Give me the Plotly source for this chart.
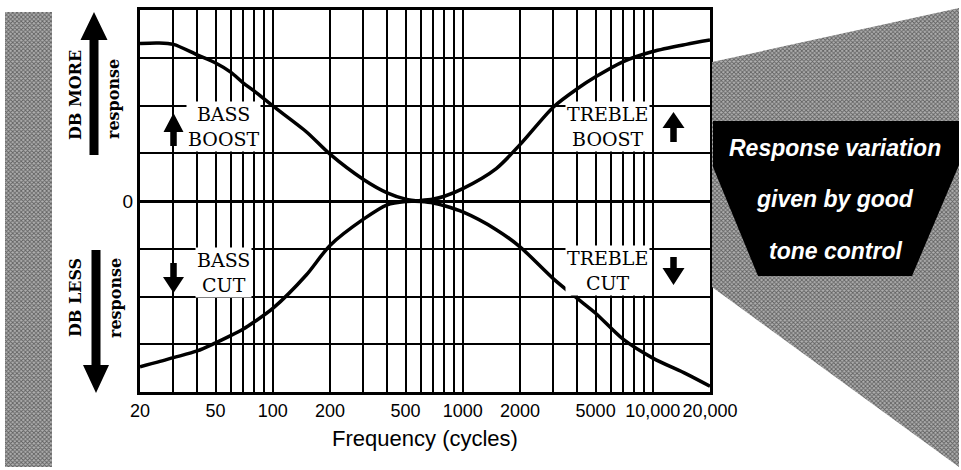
import numpy as np
import plotly.graph_objects as go

# Tone-control response curves (relative dB steps; one grid division = one step)
freq_bass = [20, 25, 30, 40, 50, 60, 70, 80, 100, 150, 200, 300, 400, 500, 600]
bass_boost = [3.30, 3.31, 3.28, 3.06, 2.89, 2.70, 2.47, 2.30, 1.99, 1.45, 0.98, 0.45, 0.17, 0.04, 0.0]
bass_cut = [-3.47, -3.37, -3.28, -3.14, -2.97, -2.82, -2.68, -2.53, -2.25, -1.55, -0.93, -0.38, -0.08, -0.01, 0.0]

freq_treble = [500, 600, 700, 800, 1000, 1500, 2000, 3000, 4000, 5000, 7000, 10000, 15000, 20000]
treble_boost = [0.0, 0.01, 0.04, 0.1, 0.26, 0.68, 1.18, 1.97, 2.35, 2.6, 2.92, 3.13, 3.28, 3.37]
treble_cut = [0.0, -0.01, -0.04, -0.1, -0.23, -0.6, -0.96, -1.63, -2.04, -2.35, -2.9, -3.29, -3.62, -3.88]

# Axis ticks and grid
x_tick_vals = [20, 50, 100, 200, 500, 1000, 2000, 5000, 10000, 20000]
x_tick_text = ["20", "50", "100", "200", "500", "1000", "2000", "5000", "10,000", "20,000"]
x_grid_vals = [30, 40, 60, 70, 80, 90, 300, 400, 600, 700, 800, 900,
               3000, 4000, 6000, 7000, 8000, 9000]
y_tick_vals = [0]
y_tick_text = ["0"]
y_grid_vals = [-3, -2, -1, 1, 2, 3]

W, H = 961, 470
PLOT_L, PLOT_R, PLOT_T, PLOT_B = 140, 710, 10, 392

SERIF = "DejaVu Serif"
SANS = "Liberation Sans"

fig = go.Figure()

# --- response curves -------------------------------------------------------
for fx, fy in [(freq_bass, bass_boost), (freq_bass, bass_cut),
               (freq_treble, treble_boost), (freq_treble, treble_cut)]:
    fig.add_trace(go.Scatter(
        x=fx, y=fy, mode="lines",
        line=dict(color="black", width=3.5, shape="spline", smoothing=0.8),
        hoverinfo="skip", showlegend=False, xaxis="x", yaxis="y"))

# --- decorative panel (pixel space) ----------------------------------------
def poly(pts, **kw):
    xs = [p[0] for p in pts] + [pts[0][0]]
    ys = [p[1] for p in pts] + [pts[0][1]]
    fig.add_trace(go.Scatter(x=xs, y=ys, mode="lines", fill="toself",
                             line=dict(width=0, color="rgba(0,0,0,0)"),
                             hoverinfo="skip", showlegend=False,
                             xaxis="x2", yaxis="y2", **kw))


def arrow(cx, tip, base, tail, shaft_w, head_w):
    hs, hh = shaft_w / 2, head_w / 2
    poly([(cx, tip), (cx + hh, base), (cx + hs, base), (cx + hs, tail),
          (cx - hs, tail), (cx - hs, base), (cx - hh, base)],
         fillcolor="black")


texture = dict(fillcolor="#8a8a8a",
               fillpattern=dict(shape="x", size=3, solidity=0.5,
                                fgcolor="#111111", bgcolor="#b0b0b0"))

# halftone strip on the left and the wedge on the right
poly([(5, 12), (52, 12), (52, 467), (5, 467)], **texture)
poly([(712, 62), (959, 8), (959, 467), (712, 287)], **texture)

# black caption banner
poly([(713, 121), (959, 121), (959, 165), (912, 276), (758, 276), (713, 167)],
     fillcolor="black")

# big arrows beside the axis
arrow(94, 12, 40, 155, 9, 27)
arrow(96, 393, 365, 250, 9, 26)

# small arrows beside the curve labels
arrow(173.5, 113, 132, 146, 6.5, 20)
arrow(173.5, 293, 277, 263, 6.5, 21)
arrow(673.5, 112, 128, 142, 6.5, 22)
arrow(673.5, 285, 268, 257, 6.5, 22)

annotations = []

# curve labels on white patches, placed in chart coordinates
for text, f, v in [("BASS<br>BOOST", 55, 1.55), ("BASS<br>CUT", 55, -1.49),
                   ("TREBLE<br>BOOST", 5740, 1.57), ("TREBLE<br>CUT", 5740, -1.45)]:
    annotations.append(dict(
        x=np.log10(f), y=v, xref="x", yref="y", text=text, showarrow=False,
        font=dict(family=SERIF, size=19, color="black"),
        bgcolor="white", borderpad=1, align="center"))

# rotated side labels
for text, x, y, weight, size in [("DB MORE", 75, 95, "bold", 16),
                                 ("response", 113, 99, "bold", 16),
                                 ("DB LESS", 75, 298, "bold", 16),
                                 ("response", 115, 298, "bold", 16)]:
    annotations.append(dict(
        x=x, y=y, xref="x2", yref="y2", text=text, showarrow=False,
        textangle=-90, font=dict(family=SERIF, size=size, color="black",
                                 weight=weight)))

# banner caption
for text, y in [("Response variation", 148), ("given by good", 199),
                ("tone control", 251)]:
    annotations.append(dict(
        x=835, y=y, xref="x2", yref="y2", text=text, showarrow=False,
        font=dict(family=SANS, size=23, color="white", weight="bold",
                  style="italic")))

fig.update_layout(
    width=W, height=H,
    margin=dict(l=0, r=0, t=0, b=0, autoexpand=False),
    paper_bgcolor="white", plot_bgcolor="rgba(0,0,0,0)",
    showlegend=False,
    annotations=annotations,
    xaxis=dict(
        type="log", range=[np.log10(20), np.log10(20000)],
        domain=[PLOT_L / W, PLOT_R / W], anchor="y", automargin=False,
        tickvals=x_tick_vals, ticktext=x_tick_text, ticks="", tickangle=0,
        tickfont=dict(family=SANS, size=18, color="black"),
        showgrid=True, gridcolor="black", gridwidth=1.8,
        minor=dict(tickvals=x_grid_vals, showgrid=True,
                   gridcolor="black", gridwidth=1.8, ticks=""),
        showline=True, mirror=True, linecolor="black", linewidth=3,
        zeroline=False,
        title=dict(text="Frequency (cycles)", standoff=12,
                   font=dict(family=SANS, size=22, color="black")),
    ),
    yaxis=dict(
        range=[-4, 4], domain=[1 - PLOT_B / H, 1 - PLOT_T / H], anchor="x",
        automargin=False,
        tickvals=y_tick_vals, ticktext=y_tick_text, ticks="",
        tickfont=dict(family=SANS, size=19, color="black"),
        showgrid=False,
        minor=dict(tickvals=y_grid_vals, showgrid=True,
                   gridcolor="black", gridwidth=1.8, ticks=""),
        zeroline=True, zerolinecolor="black", zerolinewidth=3,
        showline=True, mirror=True, linecolor="black", linewidth=3,
    ),
    xaxis2=dict(range=[0, W], domain=[0, 1], anchor="y2", visible=False,
                fixedrange=True, automargin=False),
    yaxis2=dict(range=[H, 0], domain=[0, 1], anchor="x2", visible=False,
                fixedrange=True, automargin=False),
)

fig.write_html("out.html")
